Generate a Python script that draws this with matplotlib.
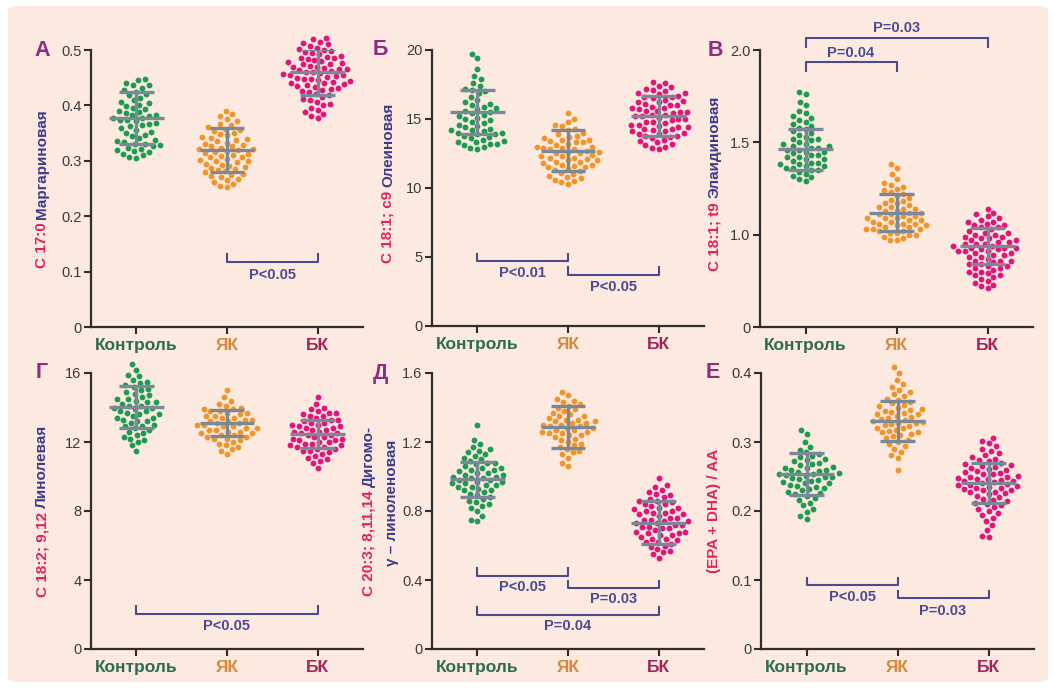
import numpy as np
import matplotlib
matplotlib.use('Agg')
import matplotlib.pyplot as plt
from matplotlib.patches import FancyBboxPatch

plt.rcParams['font.family'] = ['Liberation Sans', 'DejaVu Sans']

groups = ['Контроль', 'ЯК', 'БК']

# --- А: C 17:0 ---
a_control = [0.448, 0.445, 0.441, 0.437, 0.436, 0.431, 0.428, 0.425, 0.420, 0.418, 0.414, 0.409,
             0.407, 0.404, 0.401, 0.399, 0.395, 0.393, 0.390, 0.388, 0.386, 0.383, 0.382, 0.380,
             0.378, 0.377, 0.374, 0.373, 0.371, 0.368, 0.367, 0.364, 0.362, 0.359, 0.356, 0.352,
             0.350, 0.347, 0.344, 0.341, 0.338, 0.336, 0.334, 0.331, 0.330, 0.328, 0.326, 0.324,
             0.322, 0.320, 0.317, 0.316, 0.313, 0.310, 0.307, 0.305]
a_yk = [0.390, 0.384, 0.380, 0.376, 0.371, 0.367, 0.364, 0.361, 0.358, 0.356, 0.353, 0.350,
        0.348, 0.346, 0.343, 0.341, 0.339, 0.337, 0.335, 0.333, 0.331, 0.329, 0.327, 0.326,
        0.324, 0.322, 0.321, 0.319, 0.318, 0.316, 0.314, 0.313, 0.311, 0.309, 0.307, 0.306,
        0.304, 0.302, 0.300, 0.299, 0.297, 0.295, 0.293, 0.291, 0.289, 0.287, 0.285, 0.283,
        0.281, 0.279, 0.277, 0.275, 0.273, 0.271, 0.268, 0.265, 0.262, 0.259, 0.255, 0.252]
a_bk = [0.522, 0.519, 0.515, 0.512, 0.510, 0.507, 0.504, 0.502, 0.500, 0.498, 0.496, 0.494,
        0.492, 0.490, 0.488, 0.486, 0.485, 0.484, 0.482, 0.480, 0.478, 0.476, 0.475, 0.474,
        0.472, 0.470, 0.470, 0.468, 0.466, 0.465, 0.463, 0.462, 0.461, 0.460, 0.458, 0.456,
        0.455, 0.455, 0.453, 0.451, 0.449, 0.448, 0.447, 0.446, 0.444, 0.442, 0.441, 0.440,
        0.438, 0.436, 0.435, 0.434, 0.432, 0.430, 0.428, 0.426, 0.424, 0.421, 0.418, 0.415,
        0.412, 0.409, 0.406, 0.403, 0.400, 0.396, 0.392, 0.388, 0.384, 0.380, 0.377]
a_mean = [0.378, 0.320, 0.460]
a_sd = [0.047, 0.040, 0.041]

# --- Б: C 18:1 c9 ---
b_control = [19.7, 19.4, 18.6, 18.1, 17.9, 17.6, 17.4, 17.2, 17.1, 17.0, 16.9, 16.6, 16.4, 16.2,
             16.1, 16.0, 15.9, 15.8, 15.7, 15.6, 15.5, 15.4, 15.3, 15.2, 15.1, 15.0, 14.9, 14.8,
             14.7, 14.6, 14.5, 14.4, 14.3, 14.2, 14.2, 14.1, 14.0, 14.0, 13.9, 13.9, 13.8, 13.7,
             13.6, 13.5, 13.4, 13.3, 13.3, 13.2, 13.2, 13.1, 13.0, 12.9, 12.8]
b_yk = [15.4, 15.0, 14.8, 14.6, 14.5, 14.3, 14.2, 14.0, 13.9, 13.8, 13.7, 13.6, 13.5, 13.5,
        13.4, 13.3, 13.3, 13.2, 13.1, 13.0, 13.0, 12.9, 12.9, 12.8, 12.8, 12.7, 12.6, 12.6,
        12.5, 12.5, 12.4, 12.3, 12.3, 12.2, 12.2, 12.1, 12.0, 12.0, 11.9, 11.9, 11.8, 11.7,
        11.7, 11.6, 11.5, 11.5, 11.4, 11.3, 11.2, 11.1, 11.0, 10.9, 10.8, 10.7, 10.6, 10.5,
        10.4, 10.3]
b_bk = [17.7, 17.6, 17.4, 17.3, 17.2, 17.1, 17.0, 16.9, 16.9, 16.8, 16.7, 16.6, 16.6, 16.5,
        16.4, 16.3, 16.2, 16.2, 16.1, 16.0, 16.0, 15.9, 15.8, 15.8, 15.7, 15.6, 15.6, 15.5,
        15.5, 15.4, 15.3, 15.3, 15.2, 15.2, 15.1, 15.0, 15.0, 14.9, 14.8, 14.8, 14.7, 14.6,
        14.6, 14.5, 14.4, 14.4, 14.3, 14.3, 14.2, 14.1, 14.1, 14.0, 13.9, 13.9, 13.8, 13.8,
        13.7, 13.6, 13.5, 13.4, 13.3, 13.2, 13.1, 13.0, 12.9, 12.8]
b_mean = [15.53, 12.70, 15.24]
b_sd = [1.60, 1.49, 1.45]

# --- В: C 18:1 t9 ---
v_control = [1.77, 1.76, 1.72, 1.70, 1.67, 1.66, 1.64, 1.63, 1.62, 1.61, 1.60, 1.59, 1.58, 1.57,
             1.56, 1.55, 1.54, 1.53, 1.52, 1.52, 1.51, 1.50, 1.49, 1.49, 1.48, 1.48, 1.47, 1.47,
             1.46, 1.46, 1.45, 1.45, 1.44, 1.43, 1.43, 1.42, 1.42, 1.41, 1.41, 1.40, 1.39, 1.39,
             1.38, 1.38, 1.37, 1.37, 1.36, 1.36, 1.35, 1.35, 1.34, 1.33, 1.32, 1.31, 1.30, 1.29]
v_yk = [1.38, 1.36, 1.33, 1.30, 1.28, 1.27, 1.26, 1.25, 1.24, 1.23, 1.22, 1.21, 1.20, 1.19,
        1.18, 1.17, 1.17, 1.16, 1.15, 1.15, 1.14, 1.14, 1.13, 1.13, 1.12, 1.12, 1.11, 1.11,
        1.10, 1.10, 1.09, 1.09, 1.09, 1.08, 1.08, 1.07, 1.07, 1.06, 1.06, 1.06, 1.05, 1.05,
        1.04, 1.04, 1.03, 1.03, 1.03, 1.02, 1.02, 1.01, 1.01, 1.00, 1.00, 0.99, 0.98, 0.97, 0.97]
v_bk = [1.14, 1.12, 1.11, 1.10, 1.09, 1.08, 1.07, 1.07, 1.06, 1.05, 1.05, 1.04, 1.04, 1.03,
        1.02, 1.01, 1.01, 1.00, 1.00, 0.99, 0.99, 0.98, 0.98, 0.97, 0.97, 0.96, 0.96, 0.95,
        0.95, 0.95, 0.94, 0.94, 0.93, 0.93, 0.93, 0.92, 0.92, 0.91, 0.91, 0.91, 0.90, 0.90,
        0.89, 0.89, 0.88, 0.88, 0.87, 0.86, 0.86, 0.86, 0.85, 0.84, 0.84, 0.83, 0.83, 0.82,
        0.82, 0.81, 0.80, 0.80, 0.79, 0.78, 0.78, 0.77, 0.76, 0.75, 0.74, 0.73, 0.72, 0.71]
v_mean = [1.462, 1.118, 0.940]
v_sd = [0.110, 0.100, 0.097]

# --- Г: C 18:2 9,12 ---
g_control = [16.5, 16.2, 15.9, 15.8, 15.6, 15.5, 15.4, 15.3, 15.2, 15.1, 15.0, 14.9, 14.8, 14.7,
             14.6, 14.5, 14.5, 14.4, 14.3, 14.3, 14.2, 14.1, 14.1, 14.0, 14.0, 13.9, 13.8, 13.8,
             13.7, 13.6, 13.6, 13.5, 13.4, 13.4, 13.3, 13.2, 13.2, 13.1, 13.0, 12.9, 12.9, 12.8,
             12.7, 12.6, 12.5, 12.4, 12.3, 12.2, 12.1, 12.0, 11.8, 11.5]
g_yk = [15.0, 14.6, 14.4, 14.2, 14.1, 14.0, 13.9, 13.9, 13.8, 13.8, 13.7, 13.7, 13.6, 13.5,
        13.5, 13.4, 13.4, 13.3, 13.3, 13.2, 13.2, 13.1, 13.1, 13.0, 13.0, 12.9, 12.9, 12.8,
        12.8, 12.7, 12.7, 12.6, 12.6, 12.5, 12.5, 12.4, 12.4, 12.3, 12.3, 12.2, 12.2, 12.1,
        12.0, 11.9, 11.8, 11.7, 11.6, 11.5, 11.3]
g_bk = [14.6, 14.2, 14.0, 13.9, 13.8, 13.7, 13.7, 13.6, 13.5, 13.5, 13.4, 13.3, 13.3, 13.2,
        13.1, 13.1, 13.0, 13.0, 12.9, 12.9, 12.8, 12.8, 12.7, 12.7, 12.6, 12.6, 12.5, 12.5,
        12.4, 12.4, 12.3, 12.3, 12.2, 12.2, 12.1, 12.1, 12.0, 12.0, 11.9, 11.9, 11.8, 11.8,
        11.7, 11.7, 11.6, 11.6, 11.5, 11.5, 11.4, 11.3, 11.2, 11.1, 11.0, 10.9, 10.8, 10.5]
g_mean = [14.03, 13.10, 12.45]
g_sd = [1.20, 0.75, 0.82]

# --- Д: C 20:3 8,11,14 ---
d_control = [1.30, 1.21, 1.19, 1.17, 1.16, 1.15, 1.14, 1.13, 1.12, 1.11, 1.10, 1.09, 1.08, 1.08,
             1.07, 1.06, 1.05, 1.05, 1.04, 1.04, 1.03, 1.02, 1.02, 1.01, 1.01, 1.00, 1.00, 0.99,
             0.99, 0.98, 0.98, 0.97, 0.97, 0.96, 0.96, 0.95, 0.95, 0.94, 0.94, 0.93, 0.92, 0.92,
             0.91, 0.90, 0.89, 0.88, 0.87, 0.86, 0.85, 0.84, 0.83, 0.82, 0.80, 0.77, 0.75, 0.74]
d_yk = [1.49, 1.47, 1.45, 1.44, 1.43, 1.42, 1.41, 1.40, 1.39, 1.38, 1.37, 1.36, 1.35, 1.35,
        1.34, 1.33, 1.33, 1.32, 1.32, 1.31, 1.31, 1.30, 1.30, 1.29, 1.29, 1.28, 1.28, 1.27,
        1.27, 1.26, 1.26, 1.25, 1.25, 1.24, 1.24, 1.23, 1.22, 1.21, 1.20, 1.19, 1.18, 1.17,
        1.16, 1.15, 1.14, 1.13, 1.11, 1.08, 1.06]
d_bk = [0.99, 0.95, 0.94, 0.92, 0.91, 0.90, 0.89, 0.88, 0.87, 0.86, 0.86, 0.85, 0.84, 0.84,
        0.83, 0.82, 0.82, 0.81, 0.80, 0.80, 0.79, 0.79, 0.78, 0.78, 0.77, 0.76, 0.76, 0.75,
        0.75, 0.74, 0.74, 0.73, 0.73, 0.72, 0.72, 0.71, 0.71, 0.70, 0.70, 0.69, 0.68, 0.68,
        0.67, 0.67, 0.66, 0.66, 0.65, 0.64, 0.64, 0.63, 0.62, 0.62, 0.61, 0.60, 0.59, 0.58,
        0.57, 0.56, 0.55, 0.53]
d_mean = [0.983, 1.286, 0.733]
d_sd = [0.103, 0.120, 0.125]

# --- Е: (EPA + DHA) / AA ---
e_control = [0.318, 0.312, 0.300, 0.293, 0.289, 0.285, 0.282, 0.280, 0.278, 0.276, 0.274, 0.272,
             0.270, 0.268, 0.266, 0.264, 0.263, 0.262, 0.260, 0.259, 0.258, 0.256, 0.255, 0.254,
             0.253, 0.252, 0.251, 0.250, 0.249, 0.248, 0.246, 0.245, 0.244, 0.242, 0.241, 0.240,
             0.238, 0.236, 0.235, 0.234, 0.232, 0.230, 0.228, 0.226, 0.224, 0.222, 0.219, 0.216,
             0.212, 0.208, 0.203, 0.199, 0.193, 0.188]
e_yk = [0.408, 0.400, 0.390, 0.384, 0.380, 0.376, 0.372, 0.369, 0.366, 0.363, 0.361, 0.358,
        0.356, 0.354, 0.352, 0.350, 0.348, 0.346, 0.345, 0.344, 0.342, 0.341, 0.340, 0.338,
        0.336, 0.335, 0.333, 0.332, 0.330, 0.329, 0.328, 0.327, 0.326, 0.324, 0.323, 0.321,
        0.320, 0.318, 0.316, 0.315, 0.314, 0.312, 0.310, 0.308, 0.306, 0.303, 0.300, 0.297,
        0.294, 0.290, 0.286, 0.281, 0.277, 0.259]
e_bk = [0.306, 0.302, 0.298, 0.294, 0.290, 0.287, 0.284, 0.281, 0.278, 0.276, 0.274, 0.272,
        0.270, 0.268, 0.266, 0.265, 0.264, 0.262, 0.261, 0.260, 0.258, 0.256, 0.255, 0.254,
        0.253, 0.251, 0.250, 0.249, 0.248, 0.247, 0.246, 0.245, 0.244, 0.243, 0.242, 0.240,
        0.239, 0.238, 0.237, 0.236, 0.235, 0.234, 0.233, 0.232, 0.231, 0.230, 0.228, 0.227,
        0.226, 0.224, 0.222, 0.220, 0.218, 0.216, 0.214, 0.212, 0.210, 0.208, 0.206, 0.203,
        0.200, 0.197, 0.194, 0.190, 0.186, 0.180, 0.172, 0.164, 0.162]
e_mean = [0.2536, 0.331, 0.240]
e_sd = [0.031, 0.029, 0.029]

# colours
dot_colors = ['#1e9a52', '#f0952c', '#e0167a']
cat_colors = ['#2c6c50', '#d6883c', '#a3235a']
bar_color = '#7b8898'
brk_color = '#4b4a8f'
red = '#e2225f'
navy = '#3b3b8c'
letter_color = '#8c2d84'
bg_color = '#fce9e0'


def swarm(ax, vals, d_px=7.0):
    """простой beeswarm в пикселях -> смещения по x в единицах данных"""
    ys = ax.transData.transform(np.column_stack([np.zeros(len(vals)), vals]))[:, 1]
    order = np.argsort(ys)
    px_list, py_list = [], []
    xs = np.zeros(len(vals))
    for i in order:
        y = ys[i]
        near = [(px, py) for px, py in zip(px_list, py_list) if abs(y - py) < d_px]
        cands = [0.0]
        for px, py in near:
            dx = np.sqrt(d_px ** 2 - (y - py) ** 2)
            cands += [px + dx, px - dx]
        cands.sort(key=lambda c: (abs(c), c))
        best = cands[-1]
        for c in cands:
            if all((c - px) ** 2 + (y - py) ** 2 >= d_px ** 2 - 1e-6 for px, py in near):
                best = c
                break
        xs[i] = best
        px_list.append(best)
        py_list.append(y)
    unit = ax.transData.transform([(1, 0)])[0, 0] - ax.transData.transform([(0, 0)])[0, 0]
    return xs / unit


def rot_label(ax, x, parts, fs=11, yc=0.5):
    """повернутая подпись из кусков разного цвета"""
    r = fig.canvas.get_renderer()
    axh = ax.get_window_extent(r).height
    texts = []
    for s, c in parts:
        t = ax.text(x, 0, s, rotation=90, color=c, fontsize=fs, fontweight='bold',
                    transform=ax.transAxes, ha='center', va='bottom')
        texts.append(t)
    hs = [t.get_window_extent(r).height for t in texts]
    gap = 4
    total = sum(hs) + gap * (len(hs) - 1)
    y = yc - total / 2 / axh
    for t, h in zip(texts, hs):
        t.set_y(y)
        y += (h + gap) / axh


def panel(ax, series, means, sds, ylim, yticks, yticklabels, letter, brackets, labx):
    ax.set_xlim(-0.5, 2.5)
    ax.set_ylim(*ylim)
    ax.set_facecolor('none')
    for s in ['top', 'right']:
        ax.spines[s].set_visible(False)
    for s in ['left', 'bottom']:
        ax.spines[s].set_linewidth(1.6)
        ax.spines[s].set_color('#2e2e2e')
    ax.set_yticks(yticks)
    ax.set_yticklabels(yticklabels)
    ax.set_xticks(range(3))
    ax.set_xticklabels(groups, fontsize=12.5, fontweight='bold')
    for lab, c in zip(ax.get_xticklabels(), cat_colors):
        lab.set_color(c)
    ax.tick_params(axis='both', direction='out', length=5, width=1.5, color='#2e2e2e')
    ax.tick_params(axis='y', labelsize=10.5, labelcolor='#3a3a3a', pad=2)
    ax.tick_params(axis='x', pad=3)

    for i, vals in enumerate(series):
        off = swarm(ax, vals)
        ax.plot(i + off, vals, 'o', ms=4.2, color=dot_colors[i], mec='none', zorder=2, clip_on=False)
        m, sd = means[i], sds[i]
        kw = dict(color=bar_color, lw=2.4, zorder=3, solid_capstyle='butt')
        ax.plot([i - 0.3, i + 0.3], [m, m], **kw)
        ax.plot([i, i], [m - sd, m + sd], **kw)
        ax.plot([i - 0.19, i + 0.19], [m + sd, m + sd], **kw)
        ax.plot([i - 0.19, i + 0.19], [m - sd, m - sd], **kw)

    for x0, x1, h, tip, ty, txt in brackets:
        ax.plot([x0, x0, x1, x1], [tip, h, h, tip], color=brk_color, lw=1.5, clip_on=False)
        ax.text((x0 + x1) / 2, ty, txt, ha='center', va='center', fontsize=10.5,
                fontweight='bold', color=brk_color, clip_on=False)

    ax.text(labx, 1.0, letter, transform=ax.transAxes, ha='center', va='center',
            fontsize=15.5, fontweight='bold', color=letter_color)


fig = plt.figure(figsize=(10.54, 6.88), dpi=100)
fig.patch.set_facecolor('white')
fig.patches.append(FancyBboxPatch((8 / 1054, 6 / 688), 1040 / 1054, 676 / 688,
                                  boxstyle='round,pad=0,rounding_size=0.008',
                                  transform=fig.transFigure, facecolor=bg_color,
                                  edgecolor='none', zorder=-10))

W, H = 1054, 688


def make_ax(left, top, bottom, right):
    return fig.add_axes([left / W, 1 - bottom / H, (right - left) / W, (bottom - top) / H])


axA = make_ax(91, 50, 327, 363)
axB = make_ax(432, 50, 326, 704)
axV = make_ax(760, 50, 327, 1033)
axG = make_ax(91, 373, 649, 363)
axD = make_ax(432, 373, 649, 704)
axE = make_ax(761, 373, 649, 1034)

panel(axA, [a_control, a_yk, a_bk], a_mean, a_sd, (0, 0.5),
      [0, 0.1, 0.2, 0.3, 0.4, 0.5], ['0', '0.1', '0.2', '0.3', '0.4', '0.5'], 'А',
      [(1, 2, 0.117, 0.132, 0.093, 'P<0.05')], -0.18)
panel(axB, [b_control, b_yk, b_bk], b_mean, b_sd, (0, 20),
      [0, 5, 10, 15, 20], ['0', '5', '10', '15', '20'], 'Б',
      [(0, 1, 4.71, 5.22, 3.82, 'P<0.01'), (1, 2, 3.70, 4.25, 2.80, 'P<0.05')], -0.19)
panel(axV, [v_control, v_yk, v_bk], v_mean, v_sd, (0.5, 2.0),
      [0.5, 1.0, 1.5, 2.0], ['0', '1.0', '1.5', '2.0'], 'В',
      [(0, 1, 1.935, 1.887, 1.985, 'P=0.04'), (0, 2, 2.065, 2.016, 2.118, 'P=0.03')], -0.165)
panel(axG, [g_control, g_yk, g_bk], g_mean, g_sd, (0, 16),
      [0, 4, 8, 12, 16], ['0', '4', '8', '12', '16'], 'Г',
      [(0, 2, 2.03, 2.47, 1.35, 'P<0.05')], -0.18)
panel(axD, [d_control, d_yk, d_bk], d_mean, d_sd, (0, 1.6),
      [0, 0.4, 0.8, 1.2, 1.6], ['0', '0.4', '0.8', '1.2', '1.6'], 'Д',
      [(0, 1, 0.424, 0.467, 0.362, 'P<0.05'), (1, 2, 0.351, 0.395, 0.289, 'P=0.03'),
       (0, 2, 0.197, 0.241, 0.131, 'P=0.04')], -0.19)
panel(axE, [e_control, e_yk, e_bk], e_mean, e_sd, (0, 0.4),
      [0, 0.1, 0.2, 0.3, 0.4], ['0', '0.1', '0.2', '0.3', '0.4'], 'Е',
      [(0, 1, 0.0928, 0.103, 0.075, 'P<0.05'), (1, 2, 0.0734, 0.0836, 0.0546, 'P=0.03')], -0.175)

fig.canvas.draw()
rot_label(axA, -0.18, [('C 17:0', red), ('Маргариновая', navy)])
rot_label(axB, -0.162, [('C 18:1; c9', red), ('Олеиновая', navy)], yc=0.52)
rot_label(axV, -0.168, [('C 18:1; t9', red), ('Элаидиновая', navy)], yc=0.52)
rot_label(axG, -0.18, [('C 18:2; 9,12', red), ('Линолевая', navy)])
rot_label(axD, -0.232, [('C 20:3; 8,11,14', red), ('Дигомо-', navy)])
rot_label(axD, -0.148, [('γ – линоленовая', navy)], yc=0.53)
rot_label(axE, -0.172, [('(EPA + DHA) / AA', red)], yc=0.5)

fig.savefig('out.png', dpi=100, facecolor=fig.get_facecolor())
